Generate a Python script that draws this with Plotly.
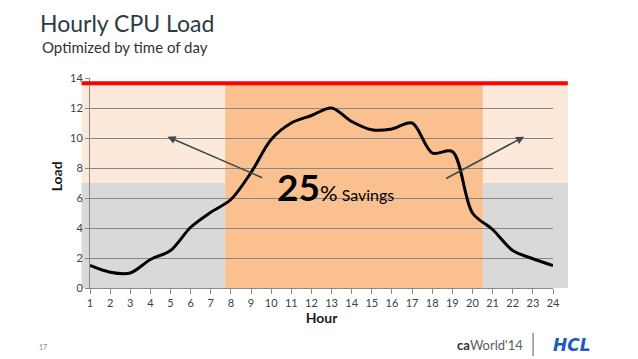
import plotly.graph_objects as go

# ---- data ----
hours = list(range(1, 25))
load = [1.5, 1.05, 1.0, 1.9, 2.5, 4.05, 5.05, 5.9, 7.7, 9.9, 11.0, 11.5,
        12.0, 11.1, 10.55, 10.6, 11.0, 9.0, 9.1, 5.0, 3.9, 2.5, 1.95, 1.5]
capacity = 13.65          # red capacity line
low_band = 7.0            # top of grey low-load band
peak_start, peak_end = 7.72, 20.51   # orange peak window (hours)
arrow_left = dict(tail=(9.63, 7.31), head=(4.85, 10.09))
arrow_right = dict(tail=(18.62, 7.25), head=(22.57, 10.09))
y_ticks = list(range(0, 15, 2))

FONT = "Lato, 'Open Sans', sans-serif"

fig = go.Figure()
fig.add_trace(go.Scatter(
    x=hours, y=load, mode="lines",
    line=dict(color="black", width=3, shape="spline", smoothing=0.9),
    hoverinfo="skip", showlegend=False))

# paper x for the shaded areas that extend beyond the axis range
x_left_paper, x_right_paper = -0.018, 1.032

def xp(v):
    return (v - hours[0]) / (hours[-1] - hours[0])

shapes = [
    dict(type="rect", xref="paper", yref="y", x0=x_left_paper, x1=x_right_paper,
         y0=0, y1=capacity, fillcolor="#FDE9D9", line_width=0, layer="below"),
    dict(type="rect", xref="paper", yref="y", x0=x_left_paper, x1=xp(peak_start),
         y0=0, y1=low_band, fillcolor="#D9D9D9", line_width=0, layer="below"),
    dict(type="rect", xref="paper", yref="y", x0=xp(peak_end), x1=x_right_paper,
         y0=0, y1=low_band, fillcolor="#D9D9D9", line_width=0, layer="below"),
    dict(type="rect", xref="paper", yref="y", x0=xp(peak_start), x1=xp(peak_end),
         y0=0, y1=capacity, fillcolor="#FAC090", line_width=0, layer="below"),
    dict(type="line", xref="paper", yref="y", x0=x_left_paper, x1=x_right_paper,
         y0=capacity, y1=capacity, line=dict(color="#FF0000", width=4), layer="above"),
    dict(type="line", xref="paper", yref="paper", x0=0.957, x1=0.957,
         y0=-0.214, y1=-0.324, line=dict(color="#555555", width=1)),
]

annotations = []
for a in (arrow_left, arrow_right):
    annotations.append(dict(
        x=a["head"][0], y=a["head"][1], ax=a["tail"][0], ay=a["tail"][1],
        xref="x", yref="y", axref="x", ayref="y", text="",
        showarrow=True, arrowhead=2, arrowsize=1, arrowwidth=1.6,
        arrowcolor="#3B4A4A"))

annotations += [
    dict(x=10.2, y=6.75, xref="x", yref="y", xanchor="left", yanchor="middle",
         showarrow=False,
         text="<b>25</b><span style='font-size:22px'>%</span>"
              "<span style='font-size:16px'> Savings</span>",
         font=dict(family=FONT, size=37, color="black")),
    dict(x=-0.108, y=1.148, xref="paper", yref="paper", xanchor="left",
         yanchor="middle", showarrow=False, text="Optimized by time of day",
         font=dict(family=FONT, size=15, color="#333333")),
    dict(x=-0.1145, y=-0.281, xref="paper", yref="paper", xanchor="left",
         yanchor="middle", showarrow=False, text="17",
         font=dict(family=FONT, size=7, color="#888888")),
    dict(x=0.788, y=-0.271, xref="paper", yref="paper", xanchor="left",
         yanchor="middle", showarrow=False,
         text="<b><span style='color:#2F343B'>ca</span></b>World'14",
         font=dict(family=FONT, size=13, color="#5A6068")),
    dict(x=1.04, y=-0.271, xref="paper", yref="paper", xanchor="center",
         yanchor="middle", showarrow=False, text="<b><i>HCL</i></b>",
         font=dict(family="'DejaVu Sans', sans-serif", size=17,
                   color="#1F5BBE")),
    dict(x=-0.072, y=0.53, xref="paper", yref="paper", xanchor="center",
         yanchor="middle", showarrow=False, textangle=-90, text="<b>Load</b>",
         font=dict(family=FONT, size=14, color="#1A1A1A")),
]

fig.update_layout(
    width=638, height=359,
    margin=dict(l=90, r=85, t=78, b=71),
    paper_bgcolor="white", plot_bgcolor="white",
    showlegend=False,
    title=dict(text="Hourly CPU Load", x=40 / 638, xref="container", xanchor="left",
               y=1 - 24 / 359, yref="container", yanchor="middle",
               font=dict(family=FONT, size=23, color="#2C3A45")),
    shapes=shapes, annotations=annotations,
    xaxis=dict(range=[hours[0], hours[-1]], tickmode="array", tickvals=hours,
               ticktext=[str(h) for h in hours], showgrid=False, zeroline=False,
               showline=True, linecolor="#8A8A8A", linewidth=1,
               ticks="outside", ticklen=5, tickcolor="#8A8A8A",
               tickfont=dict(family=FONT, size=11, color="#404040"),
               title=dict(text="<b>Hour</b>", standoff=1,
                          font=dict(family=FONT, size=14, color="#1A1A1A"))),
    yaxis=dict(range=[0, 14], tickmode="array", tickvals=y_ticks,
               showgrid=True, gridcolor="#868686", gridwidth=1, zeroline=False,
               showline=True, linecolor="#8A8A8A", linewidth=1,
               ticks="outside", ticklen=4, tickcolor="#8A8A8A",
               tickfont=dict(family=FONT, size=11, color="#404040")),
)

fig.write_html("out.html", config={"displayModeBar": False},
               post_script="document.body.style.margin='0';"
                           "document.body.style.overflow='hidden';")
